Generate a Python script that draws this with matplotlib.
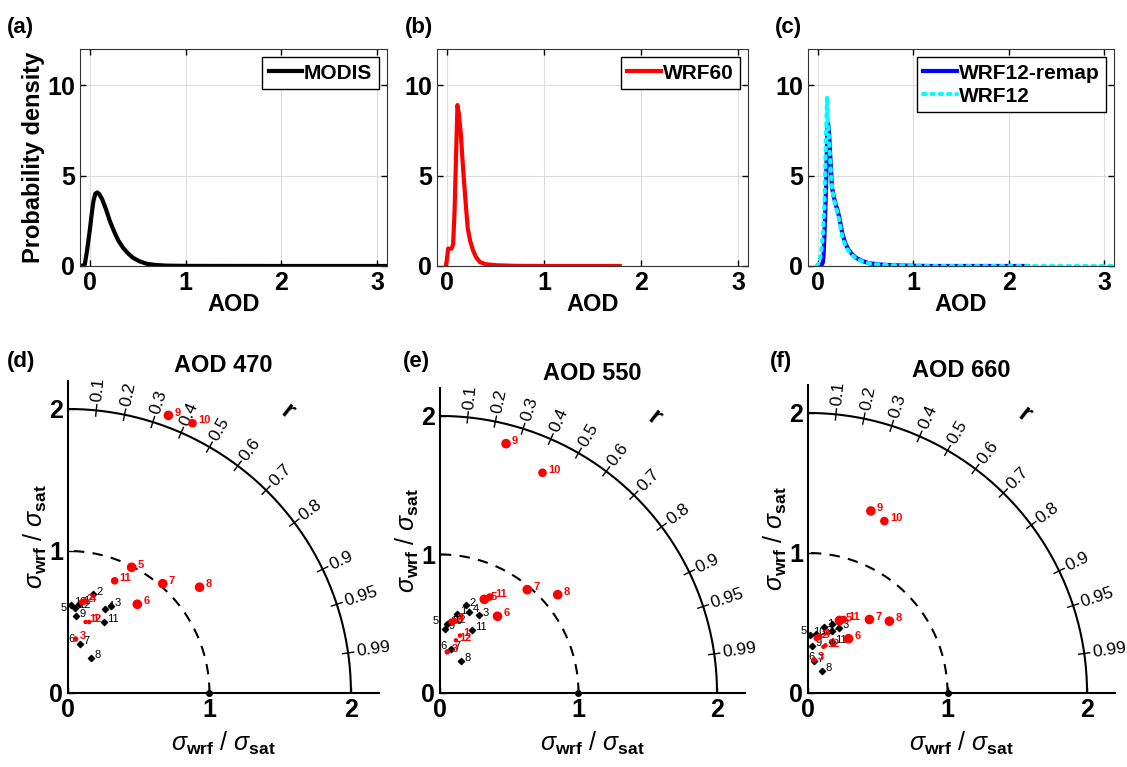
import matplotlib
matplotlib.use("Agg")
import matplotlib.pyplot as plt
import numpy as np

plt.rcParams['font.family'] = ['Liberation Sans', 'DejaVu Sans']
plt.rcParams['mathtext.fontset'] = 'custom'
plt.rcParams['mathtext.rm'] = 'Liberation Sans'
plt.rcParams['mathtext.it'] = 'Liberation Sans:italic'
plt.rcParams['mathtext.bf'] = 'Liberation Sans:bold'

# ---- PDF curves ----
modis_x = [-0.10, -0.07, -0.05, -0.03, 0.0, 0.02, 0.04, 0.06, 0.08, 0.10, 0.13, 0.17, 0.21,
           0.26, 0.30, 0.35, 0.40, 0.45, 0.52, 0.59, 0.68, 0.80, 1.0, 2.0, 3.1]
modis_y = [0.0, 0.02, 0.1, 0.74, 1.9, 2.8, 3.6, 4.0, 4.07, 3.98, 3.7, 3.15, 2.5,
           1.85, 1.4, 1.0, 0.7, 0.46, 0.26, 0.13, 0.06, 0.02, 0.005, 0.0, 0.0]

wrf60_x = [-0.01, 0.0, 0.014, 0.05, 0.065, 0.08, 0.095, 0.11, 0.125, 0.146, 0.16, 0.18, 0.20,
           0.216, 0.24, 0.27, 0.30, 0.34, 0.40, 0.51, 0.7, 1.0, 1.78]
wrf60_y = [0.0, 0.3, 0.96, 0.96, 1.2, 3.0, 6.0, 8.9, 8.4, 7.2, 6.0, 4.5, 3.1,
           2.07, 1.4, 0.87, 0.5, 0.22, 0.1, 0.04, 0.01, 0.0, 0.0]

remap_x = [0.035, 0.055, 0.063, 0.075, 0.088, 0.097, 0.105, 0.112, 0.12, 0.135, 0.15, 0.17,
           0.19, 0.21, 0.23, 0.26, 0.29, 0.32, 0.36, 0.40, 0.47, 0.54, 0.65, 0.79, 1.0, 1.2, 2.2]
remap_y = [0.0, 0.2, 0.65, 2.2, 4.35, 6.5, 7.9, 7.8, 7.3, 5.8, 4.35, 3.8,
           3.4, 3.05, 2.6, 1.76, 1.25, 0.93, 0.65, 0.46, 0.27, 0.15, 0.08, 0.04, 0.01, 0.0, 0.0]

wrf12_x = [-0.01, 0.015, 0.035, 0.055, 0.07, 0.085, 0.098, 0.108, 0.12, 0.135, 0.15, 0.17,
           0.19, 0.21, 0.23, 0.26, 0.29, 0.32, 0.36, 0.40, 0.47, 0.54, 0.65, 0.79, 1.0, 1.2, 3.14]
wrf12_y = [0.0, 0.2, 0.65, 1.8, 3.2, 6.5, 9.35, 8.0, 6.9, 5.5, 4.35, 3.7,
           3.3, 2.87, 2.4, 1.57, 1.15, 0.85, 0.6, 0.42, 0.25, 0.14, 0.07, 0.04, 0.01, 0.0, 0.0]

# ---- Taylor diagram points (x = sigma*r, y = sigma*sqrt(1-r^2)) ----
labels = ['1', '2', '3', '4', '5', '6', '7', '8', '9', '10', '11', '12']

black_470_x = [0.08, 0.18, 0.305, 0.26, -0.08, -0.02, 0.082, 0.165, 0.054, 0.02, 0.255, 0.05]
black_470_y = [0.63, 0.695, 0.615, 0.59, 0.58, 0.36, 0.347, 0.245, 0.54, 0.62, 0.503, 0.60]
red_470_x = [0.15, 0.10, 0.054, 0.12, 0.45, 0.49, 0.67, 0.93, 0.71, 0.88, 0.33, 0.125]
red_470_y = [0.50, 0.64, 0.38, 0.645, 0.885, 0.625, 0.77, 0.745, 1.955, 1.90, 0.79, 0.50]

black_550_x = [0.12, 0.187, 0.283, 0.21, -0.08, -0.02, 0.077, 0.149, 0.036, 0.05, 0.228, 0.07]
black_550_y = [0.57, 0.633, 0.56, 0.585, 0.50, 0.32, 0.32, 0.233, 0.465, 0.50, 0.458, 0.51]
red_550_x = [0.144, 0.084, 0.053, 0.10, 0.32, 0.415, 0.63, 0.85, 0.477, 0.74, 0.36, 0.115]
red_550_y = [0.415, 0.513, 0.297, 0.52, 0.676, 0.554, 0.746, 0.71, 1.80, 1.59, 0.693, 0.38]

black_660_x = [0.115, 0.17, 0.225, 0.17, -0.08, -0.02, 0.043, 0.098, 0.026, 0.014, 0.17, 0.06]
black_660_y = [0.47, 0.49, 0.465, 0.44, 0.42, 0.24, 0.225, 0.158, 0.338, 0.417, 0.362, 0.42]
red_660_x = [0.125, 0.062, 0.043, 0.08, 0.225, 0.29, 0.44, 0.583, 0.45, 0.547, 0.254, 0.11]
red_660_y = [0.34, 0.393, 0.237, 0.40, 0.518, 0.388, 0.525, 0.513, 1.30, 1.228, 0.525, 0.33]

red_size = [3, 5, 4, 5, 8, 8, 8, 8, 8, 7, 6, 3]

corr_ticks = [0.1, 0.2, 0.3, 0.4, 0.5, 0.6, 0.7, 0.8, 0.9, 0.95, 0.99]

fig = plt.figure(figsize=(11.27, 7.67), dpi=100)

# ---- top row ----
top_pos = [[0.071, 0.6532, 0.2724, 0.2829],
           [0.3878, 0.6532, 0.276, 0.2829],
           [0.717, 0.6532, 0.2715, 0.2829]]
axs = [fig.add_axes(p) for p in top_pos]

axs[0].plot(modis_x, modis_y, color='black', lw=3, label='MODIS')
axs[1].plot(wrf60_x, wrf60_y, color='red', lw=3, label='WRF60')
axs[2].plot(remap_x, remap_y, color='#0000ff', lw=3, label='WRF12-remap')
axs[2].plot(wrf12_x, wrf12_y, color='cyan', lw=3, ls=(0, (0.6, 1.4)), dash_capstyle='round',
            label='WRF12')

for ax in axs:
    ax.set_xlim(-0.1, 3.1)
    ax.set_ylim(0, 12)
    ax.set_xticks([0, 1, 2, 3])
    ax.set_yticks([0, 5, 10])
    ax.grid(True, color='#dddddd', lw=0.8)
    ax.tick_params(direction='in', top=True, right=True, labelsize=18, length=4, width=1)
    for t in ax.get_xticklabels() + ax.get_yticklabels():
        t.set_fontweight('bold')
    for s in ax.spines.values():
        s.set_color('#333333')
    ax.set_xlabel('AOD', fontsize=17, fontweight='bold', labelpad=-1)
    leg = ax.legend(loc='upper right', handlelength=1.6, handletextpad=0.1,
                    borderpad=0.3, labelspacing=0.2, fancybox=False, framealpha=1,
                    borderaxespad=0.4, prop={'weight': 'bold', 'size': 15})
    leg.get_frame().set_edgecolor('black')
    leg.get_frame().set_linewidth(1)
axs[0].set_ylabel('Probability density', fontsize=17, fontweight='bold', labelpad=2)

# ---- Taylor diagrams ----
tay_pos = [[0.0603, 0.0965, 0.2762, 0.4073],
           [0.3904, 0.0965, 0.2704, 0.3973],
           [0.717, 0.0965, 0.2723, 0.4016]]
titles = ['AOD 470', 'AOD 550', 'AOD 660']
blacks = [(black_470_x, black_470_y), (black_550_x, black_550_y), (black_660_x, black_660_y)]
reds = [(red_470_x, red_470_y), (red_550_x, red_550_y), (red_660_x, red_660_y)]

th = np.linspace(0, np.pi / 2, 200)
for k, p in enumerate(tay_pos):
    ax = fig.add_axes(p)
    ax.set_xlim(0, 2.2)
    ax.set_ylim(0, 2.2)
    for side in ['top', 'right']:
        ax.spines[side].set_visible(False)
    for side in ['left', 'bottom']:
        ax.spines[side].set_linewidth(1.5)
    ax.set_xticks([0, 1, 2])
    ax.set_yticks([0, 1, 2])
    ax.tick_params(direction='in', length=4, width=1, labelsize=18)
    for t in ax.get_xticklabels() + ax.get_yticklabels():
        t.set_fontweight('bold')

    ax.plot(2 * np.cos(th), 2 * np.sin(th), color='black', lw=1.5, clip_on=False)
    ax.plot(np.cos(th), np.sin(th), color='black', lw=1.5, ls=(0, (5, 4)))
    ax.plot([1], [0], 'o', color='black', ms=4, clip_on=False)

    for r in corr_ticks:
        a = np.arccos(r)
        ax.plot([1.96 * np.cos(a), 2.04 * np.cos(a)], [1.96 * np.sin(a), 2.04 * np.sin(a)],
                color='black', lw=1, clip_on=False)
        ax.text(2.06 * np.cos(a), 2.06 * np.sin(a), '%g' % r, rotation=np.degrees(a),
                rotation_mode='anchor', ha='left', va='center', fontsize=12.5, clip_on=False)
    ra = np.radians(52)
    ax.text(2.52 * np.cos(ra), 2.52 * np.sin(ra), 'r', rotation=-38, rotation_mode='anchor',
            ha='center', va='center', fontsize=18, fontweight='bold')

    bx, by = blacks[k]
    ax.scatter(bx, by, marker='D', s=10, color='black', zorder=3)
    for x, y, lab in zip(bx, by, labels):
        ax.annotate(lab, (x, y), xytext=(2.5, 2), textcoords='offset points', fontsize=8,
                    color='black', ha='left', va='center', annotation_clip=False)
    rx, ry = reds[k]
    ax.scatter(rx, ry, marker='o', s=np.array(red_size) ** 2 * 0.55, color='red', zorder=4)
    for x, y, lab, sz in zip(rx, ry, labels, red_size):
        ax.annotate(lab, (x, y), xytext=(sz * 0.35 + 1.5, 2), textcoords='offset points',
                    fontsize=8, color='red', fontweight='bold', ha='left', va='center',
                    annotation_clip=False)

    ax.set_title(titles[k], fontsize=17, fontweight='bold', pad=6)
    ax.set_xlabel(r'$\sigma_{\mathbf{wrf}}$ / $\sigma_{\mathbf{sat}}$', fontsize=18, labelpad=6)
    ax.set_ylabel(r'$\sigma_{\mathbf{wrf}}$ / $\sigma_{\mathbf{sat}}$', fontsize=18, labelpad=0)

# panel letters
for lab, x, y in [('(a)', 7, 28), ('(b)', 405, 28), ('(c)', 775, 28),
                  ('(d)', 7, 362), ('(e)', 403, 362), ('(f)', 770, 362)]:
    fig.text(x / 1127, 1 - y / 767, lab, fontsize=16, fontweight='bold', va='center', ha='left')

fig.savefig('out.png', dpi=100)
